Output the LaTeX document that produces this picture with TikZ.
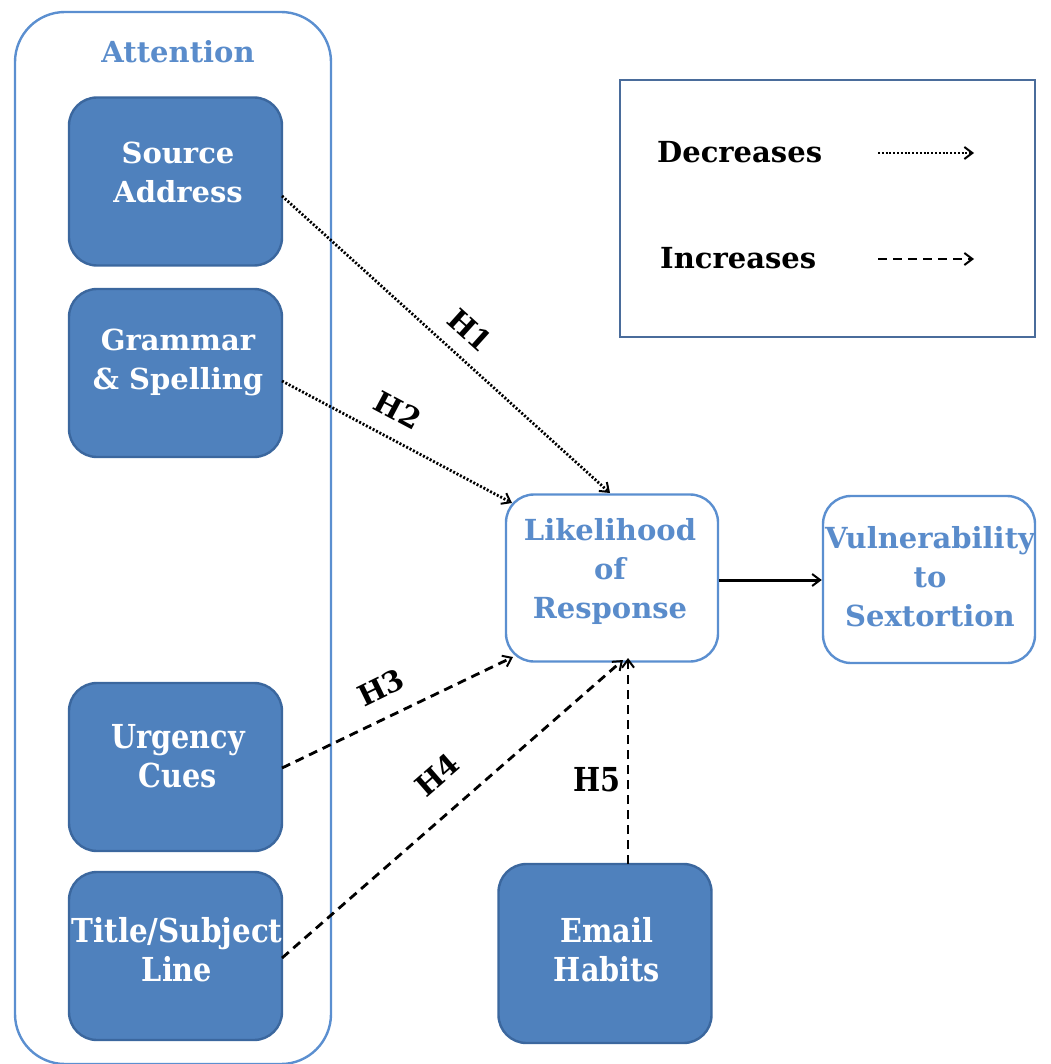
\documentclass[tikz,border=0pt]{standalone}
\usepackage{fontspec}
\setmainfont{DejaVu Serif}
\usetikzlibrary{arrows.meta}
\definecolor{boxfill}{HTML}{4F81BD}
\definecolor{boxedge}{HTML}{3B679E}
\definecolor{lineblue}{HTML}{5B8FD0}
\definecolor{textblue}{HTML}{5A8CCB}
\definecolor{legendedge}{HTML}{4A6C9B}
\newcommand\txtfont{\fontsize{29}{39}\selectfont\bfseries}
\newcommand\bigfont{\fontsize{33}{39}\selectfont\bfseries}
\newcommand\cond[1]{\scalebox{0.87}[1]{#1}}
\tikzset{
  darkbox/.style={draw=boxedge, line width=2.4pt, fill=boxfill, rounded corners=28pt,
    minimum width=213pt, minimum height=168pt, inner sep=0pt},
  whitebox/.style={draw=lineblue, line width=2.4pt, fill=white, rounded corners=28pt,
    minimum width=212pt, minimum height=167pt, inner sep=0pt},
  wtext/.style={text=white, align=center, font=\txtfont, inner sep=0pt},
  wctext/.style={text=white, align=center, font=\bigfont, inner sep=0pt},
  btext/.style={text=textblue, align=center, font=\txtfont, inner sep=0pt},
  htext/.style={text=black, font=\txtfont, inner sep=0pt},
  tip/.style={-{Straight Barb[length=8pt,width=12pt,line width=2pt]}},
  decr/.style={tip, line width=2.8pt, dash pattern=on 2pt off 1.8pt},
  incr/.style={tip, line width=2.8pt, dash pattern=on 9pt off 6pt},
  solidarrow/.style={tip, line width=3pt},
}
\begin{document}
\begin{tikzpicture}[x=1pt,y=-1pt]
\path[use as bounding box] (0,0) rectangle (1050,1064);
% outer attention container
\node[draw=lineblue, line width=2.4pt, rounded corners=50pt, minimum width=316pt,
  minimum height=1052pt, inner sep=0pt] (attn) at (173,538) {};
\node[btext] (attnlabel) at (178,52) {Attention};
% left boxes
\node[darkbox] (src) at (175.5,181.5) {};
\node[wtext] (srct) at (178,172) {Source\\Address};
\node[darkbox] (gram) at (175.5,373) {};
\node[wtext] (gramt) at (178,362) {Grammar\\\& Spelling};
\node[darkbox] (urg) at (175.5,767) {};
\node[wctext] (urgt) at (178,756) {\cond{Urgency}\\\cond{Cues}};
\node[darkbox] (title) at (175.5,956) {};
\node[wctext] (titlet) at (177,950) {\scalebox{0.89}[1]{Title/Subject}\\\cond{Line}};
\node[darkbox, minimum height=179pt] (email) at (605,953.5) {};
\node[wctext] (emailt) at (607,950) {\cond{Email}\\\cond{Habits}};
% white boxes
\node[whitebox] (lik) at (612,578) {};
\node[btext] (likt) at (610,571) {Likelihood\\of\\Response};
\node[whitebox] (vul) at (929,579.5) {};
\node[btext] (vult) at (930,577) {Vulnerability\\to\\Sextortion};
% legend
\node[draw=legendedge, line width=2.4pt, minimum width=415pt, minimum height=257pt,
  inner sep=0pt] (legend) at (827.5,208.5) {};
\node[htext, anchor=west] (dec) at (657,152) {Decreases};
\node[htext, anchor=west] (inc) at (660,258) {Increases};
\coordinate (d1) at (878,153);
\coordinate (d2) at (974,153);
\coordinate (i1) at (878,259);
\coordinate (i2) at (974,259);
\draw[decr] (d1) -- (d2);
\draw[incr] (i1) -- (i2);
% connectors
\coordinate (srcE) at (282,196);
\coordinate (gramE) at (282,381);
\coordinate (urgE) at (282,768);
\coordinate (titleE) at (282,958);
\coordinate (likTop) at (610,493);
\coordinate (likTL) at (512,503);
\coordinate (likBL) at (513,657);
\coordinate (likB1) at (623,660);
\coordinate (likB2) at (628,658);
\coordinate (emailT) at (628,864);
\draw[decr] (srcE) -- (likTop);
\draw[decr] (gramE) -- (likTL);
\draw[incr] (urgE) -- (likBL);
\draw[incr] (titleE) -- (likB1);
\draw[incr] (emailT) -- (likB2);
\draw[solidarrow] (lik.east |- 0,580) -- (vul.west |- 0,580);
% hypothesis labels
\node[htext, rotate=-42] (h1) at (470,330) {H1};
\node[htext, rotate=-28] (h2) at (398,410) {H2};
\node[htext, rotate=26] (h3) at (381,688) {H3};
\node[htext, rotate=41] (h4) at (437,775) {H4};
\node[htext, font=\bigfont] (h5) at (597,780) {\cond{H5}};
\end{tikzpicture}
\end{document}
